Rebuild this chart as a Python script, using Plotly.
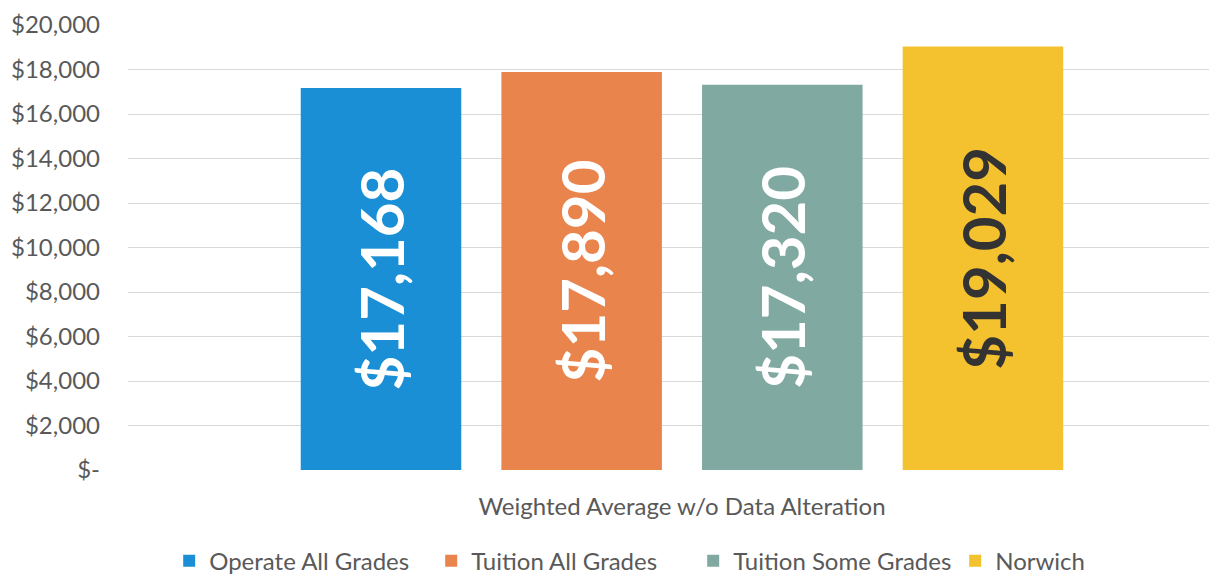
import plotly.graph_objects as go

category = ["Weighted Average w/o Data Alteration"]
series = ["Operate All Grades", "Tuition All Grades", "Tuition Some Grades", "Norwich"]
values = [17168, 17890, 17320, 19029]
colors = ["#1b8fd5", "#e9844c", "#80a9a1", "#f4c22f"]
text_colors = ["white", "white", "white", "#333333"]

tick_vals = [0, 2000, 4000, 6000, 8000, 10000, 12000, 14000, 16000, 18000, 20000]
tick_text = ["$-", "$2,000", "$4,000", "$6,000", "$8,000", "$10,000",
             "$12,000", "$14,000", "$16,000", "$18,000", "$20,000"]

fig = go.Figure()
for name, v, c, tc in zip(series, values, colors, text_colors):
    fig.add_trace(go.Bar(
        x=category, y=[v], name=name,
        marker=dict(color=c, line=dict(width=0)),
        text=["${:,}".format(v)], textposition="inside",
        insidetextanchor="middle", textangle=-90,
        textfont=dict(family="Lato", size=60, color=tc, weight="bold"),
    ))

# page body has an 8px margin, so the figure is a bit smaller than the window
fig.update_layout(
    width=1209, height=568,
    paper_bgcolor="white", plot_bgcolor="white",
    margin=dict(l=120, r=0, t=17, b=106, autoexpand=False),
    barmode="group", bargap=0.263, bargroupgap=0.2,
    font=dict(family="Lato", color="#595959"),
    legend=dict(orientation="h", x=0.519, xanchor="center", y=-0.205, yanchor="middle",
                font=dict(size=24, color="#595959"), itemwidth=30,
                entrywidth=217, entrywidthmode="pixels"),
    showlegend=True,
)
fig.update_xaxes(range=[-0.5087, 0.4913], tickfont=dict(size=24, color="#595959"),
                 showgrid=False, showline=False, ticks="", ticklabelstandoff=20,
                 automargin=False)
fig.update_yaxes(range=[0, 20000], tickvals=tick_vals, ticktext=tick_text,
                 tickfont=dict(size=24, color="#595959"), gridcolor="#d9d9d9",
                 gridwidth=1, zeroline=False, showline=False, ticklabelstandoff=27,
                 automargin=False, ticklabeloverflow="allow")

fig.write_html("out.html")
